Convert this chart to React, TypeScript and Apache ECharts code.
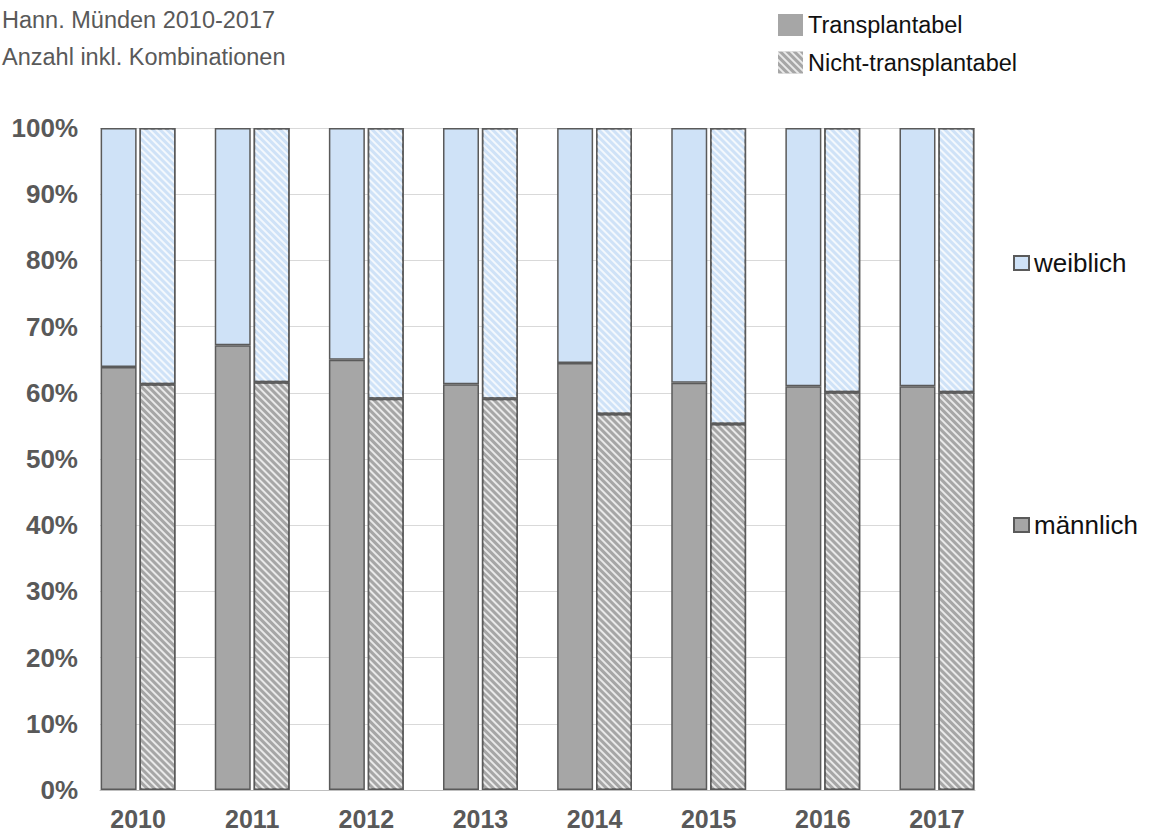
import React, { useEffect, useRef } from "react";
import * as echarts from "echarts";

const years = ["2010", "2011", "2012", "2013", "2014", "2015", "2016", "2017"];
const maleTrans = [63.9, 67.2, 65.0, 61.3, 64.5, 61.5, 61.0, 61.0];
const femaleTrans = [36.1, 32.8, 35.0, 38.7, 35.5, 38.5, 39.0, 39.0];
const maleNicht = [61.3, 61.6, 59.1, 59.1, 56.8, 55.3, 60.1, 60.1];
const femaleNicht = [38.7, 38.4, 40.9, 40.9, 43.2, 44.7, 39.9, 39.9];
const yTicks = [0, 10, 20, 30, 40, 50, 60, 70, 80, 90, 100];

const GRAY = "#a6a6a6";
const BLUE = "#cfe2f7";
const BORDER = "#5a5a5a";
const FONT = "'Liberation Sans', Arial, sans-serif";

const hatch = {
  symbol: "rect",
  symbolSize: 1,
  dashArrayX: [1, 0],
  dashArrayY: [2, 3],
  rotation: Math.PI / 4,
  color: "rgba(255,255,255,0.75)",
};

export default function App() {
  const ref = useRef<HTMLDivElement>(null);
  useEffect(() => {
    if (!ref.current) return;
    const chart = echarts.init(ref.current, undefined, { renderer: "svg" });
    const barBase = {
      type: "bar",
      xAxisIndex: 1,
      yAxisIndex: 1,
      barWidth: 36,
      barGap: "8%",
    };
    chart.setOption({
      animation: false,
      textStyle: { fontFamily: FONT },
      title: {
        text: "Hann. Münden 2010-2017",
        subtext: "Anzahl inkl. Kombinationen",
        left: -3,
        top: 3,
        itemGap: 13,
        textStyle: { fontSize: 23.5, fontWeight: "normal", color: "#595959", fontFamily: FONT },
        subtextStyle: { fontSize: 23.5, color: "#595959", fontFamily: FONT },
      },
      legend: [
        {
          data: ["Transplantabel", "Nicht-transplantabel"],
          orient: "vertical",
          left: 773,
          top: 8,
          itemWidth: 25,
          itemHeight: 22,
          itemGap: 13.5,
          icon: "rect",
          textStyle: { fontSize: 23.5, color: "#111", fontFamily: FONT },
        },
        {
          data: ["weiblich", "männlich"],
          orient: "vertical",
          left: 1008,
          top: 245,
          itemWidth: 15,
          itemHeight: 14,
          itemGap: 236,
          icon: "rect",
          textStyle: { fontSize: 26, color: "#111", fontFamily: FONT },
        },
      ],
      grid: [
        { left: 100, right: 174, top: 128, bottom: 42 },
        { left: 81, right: 155, top: 128, bottom: 42 },
      ],
      xAxis: [
        {
          type: "category",
          gridIndex: 0,
          data: years,
          axisLabel: { show: false },
          axisTick: { show: false },
          axisLine: { show: true, lineStyle: { color: "#bfbfbf", width: 1 } },
        },
        {
          type: "category",
          gridIndex: 1,
          data: years,
          axisLine: { show: false },
          axisTick: { show: false },
          axisLabel: {
            margin: 16,
            fontSize: 25,
            fontWeight: "bold",
            color: "#595959",
            fontFamily: FONT,
          },
        },
      ],
      yAxis: [
        {
          type: "value",
          gridIndex: 0,
          min: yTicks[0],
          max: yTicks[yTicks.length - 1],
          interval: 10,
          axisLine: { show: false },
          axisTick: { show: false },
          splitLine: { show: true, lineStyle: { color: "#d9d9d9", width: 1 } },
          axisLabel: {
            margin: 22,
            fontSize: 26,
            fontWeight: "bold",
            color: "#595959",
            fontFamily: FONT,
            formatter: "{value}%",
          },
        },
        {
          type: "value",
          gridIndex: 1,
          min: 0,
          max: 100,
          show: false,
        },
      ],
      series: [
        {
          ...barBase,
          name: "männlich",
          stack: "T",
          data: maleTrans,
          itemStyle: { color: GRAY, borderColor: BORDER, borderWidth: 1.5 },
        },
        {
          ...barBase,
          name: "weiblich",
          stack: "T",
          data: femaleTrans,
          itemStyle: { color: BLUE, borderColor: BORDER, borderWidth: 1.5 },
        },
        {
          ...barBase,
          name: "männlich",
          stack: "N",
          data: maleNicht,
          itemStyle: { color: GRAY, borderColor: BORDER, borderWidth: 1.5, decal: hatch },
        },
        {
          ...barBase,
          name: "weiblich",
          stack: "N",
          data: femaleNicht,
          itemStyle: { color: BLUE, borderColor: BORDER, borderWidth: 1.5, decal: hatch },
        },
        {
          type: "bar",
          name: "Transplantabel",
          xAxisIndex: 0,
          yAxisIndex: 0,
          data: [],
          itemStyle: { color: GRAY },
        },
        {
          type: "bar",
          name: "Nicht-transplantabel",
          xAxisIndex: 0,
          yAxisIndex: 0,
          data: [],
          itemStyle: { color: GRAY, decal: hatch },
        },
      ],
    });
    return () => chart.dispose();
  }, []);
  return (
    <div
      ref={ref}
      style={{ position: "fixed", left: 0, top: 0, width: 1149, height: 832, background: "#fff" }}
    />
  );
}
